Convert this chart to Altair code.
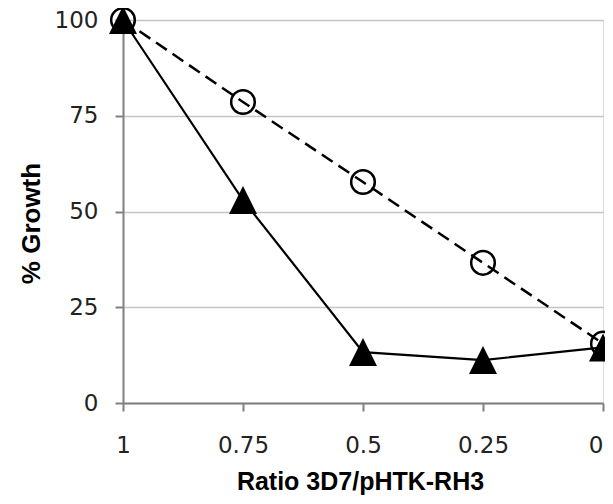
import altair as alt
import pandas as pd

ratios = [1, 0.75, 0.5, 0.25, 0]
circle_growth = [100, 78.6, 57.7, 36.6, 15.5]
triangle_growth = [100, 53.0, 13.3, 11.2, 14.5]
x_ticks = [1, 0.75, 0.5, 0.25, 0]
y_ticks = [0, 25, 50, 75, 100]

df_c = pd.DataFrame({"ratio": ratios, "growth": circle_growth})
df_t = pd.DataFrame({"ratio": ratios, "growth": triangle_growth})

x_enc = alt.X(
    "ratio:Q",
    scale=alt.Scale(domain=[1, 0], nice=False, zero=False),
    axis=alt.Axis(
        title="Ratio 3D7/pHTK-RH3",
        values=x_ticks,
        labelExpr="format(datum.value, '~g')",
        grid=False,
        tickSize=8,
        tickWidth=2,
        tickColor="#808080",
        domainColor="#808080",
        domainWidth=2,
        labelFont="DejaVu Sans",
        labelFontSize=23,
        labelColor="#222222",
        labelPadding=23,
        labelBaseline="top",
        labelAlign={"condition": {"test": "datum.value == 0", "value": "right"}, "value": "center"},
        labelFlush=False,
        labelOverlap=False,
        titleFont="Liberation Sans",
        titleFontSize=25,
        titleFontWeight="bold",
        titleColor="#000000",
        titleBaseline="middle",
        titleX=237,
        titleY=78,
    ),
)
y_enc = alt.Y(
    "growth:Q",
    scale=alt.Scale(domain=[0, 100], nice=False),
    axis=alt.Axis(
        title="% Growth",
        values=y_ticks,
        grid=True,
        gridColor="#c4c4c4",
        gridWidth=1.5,
        tickSize=8,
        tickWidth=2,
        tickColor="#808080",
        domainColor="#808080",
        domainWidth=2,
        labelFont="DejaVu Sans",
        labelFontSize=23,
        labelColor="#222222",
        labelPadding=17,
        labelFlush=False,
        titleFont="Liberation Sans",
        titleFontSize=26,
        titleFontWeight="bold",
        titleColor="#000000",
        titleAngle=270,
        titleAlign="center",
        titleBaseline="middle",
        titleX=-92,
        titleY=203,
    ),
)

c_line = alt.Chart(df_c).mark_line(
    color="black", strokeWidth=2.5, strokeDash=[13, 7]
).encode(x=x_enc, y=y_enc)
c_pts = alt.Chart(df_c).mark_point(
    shape="circle", filled=False, color="black", strokeWidth=2.5, size=560, opacity=1
).encode(x=x_enc, y=y_enc)
t_line = alt.Chart(df_t).mark_line(color="black", strokeWidth=2.2).encode(x=x_enc, y=y_enc)
t_pts = alt.Chart(df_t).mark_point(
    shape="M0,-1L1,1L-1,1Z", filled=True, color="black", size=784, opacity=1
).encode(x=x_enc, y=y_enc)

chart = (
    alt.layer(c_line, c_pts, t_line, t_pts)
    .properties(
        width=480,
        height=383,
        autosize=alt.AutoSizeParams(type="none"),
        padding={"left": 115, "top": 12, "right": 2, "bottom": 93},
    )
    .configure_view(stroke="#808080", strokeWidth=2)
    .configure(background="white")
)

chart.save("out.html", embed_options={"renderer": "svg", "actions": False})
